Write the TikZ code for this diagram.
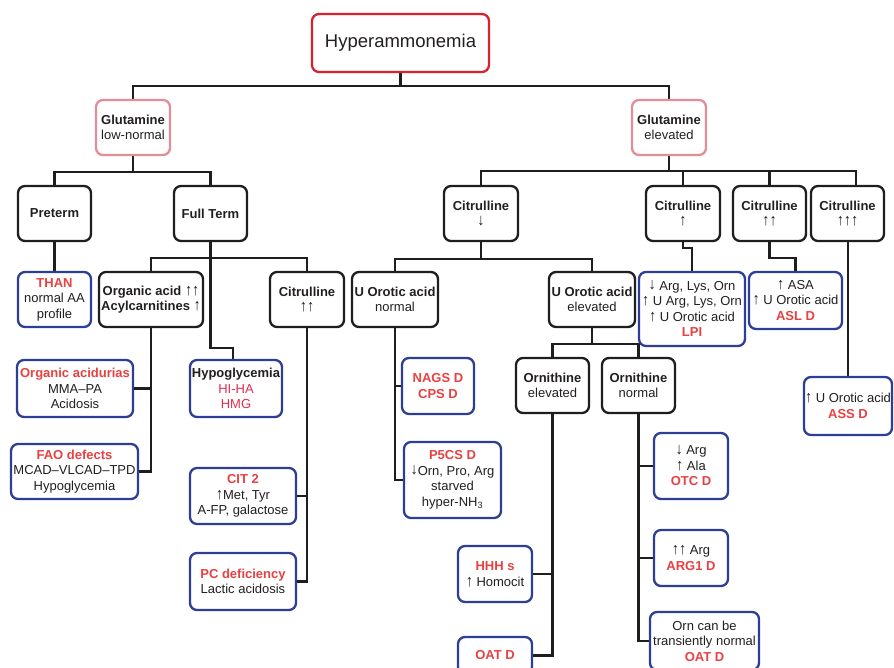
\documentclass[tikz,border=0pt]{standalone}
\usepackage{fontspec}
\setmainfont{Liberation Sans}
\usetikzlibrary{backgrounds}
\definecolor{txt}{RGB}{35,31,32}
\definecolor{bord}{RGB}{30,30,30}
\definecolor{bluec}{RGB}{44,62,150}
\definecolor{pinkc}{RGB}{228,140,152}
\definecolor{hypc}{RGB}{214,35,45}
\definecolor{redt}{RGB}{232,65,66}
\definecolor{crim}{RGB}{224,45,80}
\newcommand{\redb}[1]{\textcolor{redt}{\bfseries #1}}
\newcommand{\upar}{\smash{\scalebox{1.1}[1.25]{↑}}}
\newcommand{\dnar}{\smash{\raisebox{0.1ex}{\scalebox{1.1}[1.25]{↓}}}}
\begin{document}
\begin{tikzpicture}[x=1pt,y=-1pt,
  box/.style={draw, fill=white, rounded corners=7pt, line width=2.3pt, align=center, inner sep=1pt,
    font=\fontsize{13}{15.5}\selectfont, text=txt},
  blk/.style={box, draw=bord},
  blu/.style={box, draw=bluec},
  pnk/.style={box, draw=pinkc},
  sz/.style 2 args={minimum width=#1, minimum height=#2},
  conn/.style={draw=bord, line width=2.3pt}]
\useasboundingbox (0,0) rectangle (894,667);
\clip (0,0) rectangle (894,667);

% level 0/1
\node[box, draw=hypc, sz={177}{58}, font=\fontsize{18.5}{22}\selectfont] (hyp) at (400.5,43) {Hyperammonemia};
\node[pnk, sz={74}{55}] (gl) at (133,127.5) {\textbf{Glutamine}\\low-normal};
\node[pnk, sz={74}{55}] (ge) at (669,127.5) {\textbf{Glutamine}\\elevated};

% level 2
\node[blk, sz={73}{55}] (pre) at (54.5,213.5) {\textbf{Preterm}};
\node[blk, sz={73}{55}] (ft) at (210.5,213.5) {\textbf{Full Term}};
\node[blk, sz={74}{55}] (cd) at (481,213.5) {\textbf{Citrulline}\\\dnar};
\node[blk, sz={74}{55}] (cu1) at (683,213.5) {\textbf{Citrulline}\\\upar};
\node[blk, sz={73}{55}] (cu2) at (769.5,213.5) {\textbf{Citrulline}\\\upar\upar};
\node[blk, sz={73}{55}] (cu3) at (847.5,213.5) {\textbf{Citrulline}\\\upar\upar\upar};

% level 3
\node[blu, sz={73}{55}] (than) at (54.5,299.5) {\redb{THAN}\\normal AA\\profile};
\node[blk, sz={104}{55}] (oa) at (151,299.5) {\textbf{Organic acid \upar\upar}\\\textbf{Acylcarnitines \upar}};
\node[blk, sz={74}{55}] (cl2) at (307,299.5) {\textbf{Citrulline}\\\upar\upar};
\node[blk, sz={86}{55}] (uon) at (395,299.5) {\textbf{U Orotic acid}\\normal};
\node[blk, sz={86}{55}] (uoe) at (592,299.5) {\textbf{U Orotic acid}\\elevated};
\node[blu, sz={106}{74}] (lpi) at (692,309) {\dnar\ Arg, Lys, Orn\\\upar\ U Arg, Lys, Orn\\\upar\ U Orotic acid\\\redb{LPI}};
\node[blu, sz={93}{57}] (asl) at (795.5,300.5) {\upar\ ASA\\\upar\ U Orotic acid\\\redb{ASL D}};

% level 4
\node[blu, sz={116}{57}] (oad) at (75,388.5) {\redb{Organic acidurias}\\MMA–PA\\Acidosis};
\node[blu, sz={92}{57}] (hypo) at (236,388.5) {\textbf{Hypoglycemia}\\\textcolor{crim}{HI-HA}\\\textcolor{crim}{HMG}};
\node[blu, sz={72}{56}] (nags) at (438,386) {\redb{NAGS D}\\\redb{CPS D}};
\node[blk, sz={73}{55}] (oel) at (552.5,385.5) {\textbf{Ornithine}\\elevated};
\node[blk, sz={73}{55}] (onr) at (638.5,385.5) {\textbf{Ornithine}\\normal};
\node[blu, sz={88}{58}] (ass) at (848,406) {\upar\ U Orotic acid\\\redb{ASS D}};

% level 5
\node[blu, sz={127}{55}] (fao) at (74.5,471.5) {\redb{FAO defects}\\MCAD–VLCAD–TPD\\Hypoglycemia};
\node[blu, sz={97}{76}] (p5cs) at (452.5,480) {\redb{P5CS D}\\\dnar Orn, Pro, Arg\\starved\\hyper-NH\textsubscript{3}};
\node[blu, sz={106}{56}] (cit2) at (243,496) {\redb{CIT 2}\\\upar Met, Tyr\\A-FP, galactose};
\node[blu, sz={74}{66}] (otc) at (691,466) {\dnar\ Arg\\\upar\ Ala\\\redb{OTC D}};
\node[blu, sz={106}{57}] (pc) at (243,581.5) {\redb{PC deficiency}\\Lactic acidosis};
\node[blu, sz={74}{56}] (hhh) at (495,574) {\redb{HHH s}\\\upar\ Homocit};
\node[blu, sz={74}{56}] (arg1) at (691,558) {\upar\upar\ Arg\\\redb{ARG1 D}};
\node[blu, sz={74}{37}] (oat1) at (495,655.5) {\redb{OAT D}};
\node[blu, sz={109}{58}] (oat2) at (704.5,641) {Orn can be\\transiently normal\\\redb{OAT D}};

\begin{pgfonlayer}{background}
\coordinate (b1) at (400.5,86);
\draw[conn] (hyp.south) -- (b1);
\draw[conn] (gl.north) |- (b1) -| (ge.north);
\coordinate (b2) at (133,172);
\draw[conn] (gl.south) -- (b2);
\draw[conn] (pre.north) |- (b2) -| (ft.north);
\coordinate (b3) at (669,171);
\draw[conn] (ge.south) -- (b3);
\draw[conn] (cd.north) |- (b3) -| ([xshift=8.5pt]cu3.north);
\draw[conn] (cu1.north) -- (cu1.north |- b3);
\draw[conn] (cu2.north) -- (cu2.north |- b3);
\draw[conn] (pre.south) -- (than.north);
\coordinate (b4) at (210.5,258);
\draw[conn] (ft.south) -- (b4);
\draw[conn] (oa.north) |- (b4) -| (cl2.north);
\coordinate (h1) at (210.5,348);
\draw[conn] (b4) -- (h1) -| ([xshift=-3pt]hypo.north);
\draw[conn] (oa.south) |- (fao.east);
\draw[conn] (oa.south |- oad.east) -- (oad.east);
\draw[conn] (cl2.south) |- (pc.east);
\draw[conn] (cl2.south |- cit2.east) -- (cit2.east);
\coordinate (b5) at (481,259);
\draw[conn] (cd.south) -- (b5);
\draw[conn] (uon.north) |- (b5) -| (uoe.north);
\draw[conn] (uon.south) |- (p5cs.west);
\draw[conn] (uon.south |- nags.west) -- (nags.west);
\coordinate (b6) at (592,344);
\draw[conn] (uoe.south) -- (b6);
\draw[conn] (oel.north) |- (b6) -| (onr.north);
\draw[conn] (oel.south) |- (oat1.east);
\draw[conn] (oel.south |- hhh.east) -- (hhh.east);
\draw[conn] (onr.south) |- (oat2.west);
\draw[conn] (onr.south |- otc.west) -- (otc.west);
\draw[conn] (onr.south |- arg1.west) -- (arg1.west);
\coordinate (c1) at (683,248);
\draw[conn] (cu1.south) -- (c1) -| (lpi.north);
\coordinate (c2) at (769.5,258);
\draw[conn] (cu2.south) -- (c2) -| (asl.north);
\draw[conn] (ass.north) -- (ass.north |- cu3.south);
\end{pgfonlayer}
\end{tikzpicture}
\end{document}
